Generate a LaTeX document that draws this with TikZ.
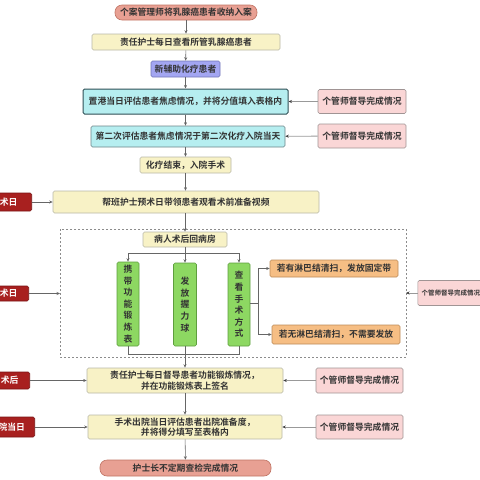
\documentclass[tikz,border=0pt]{standalone}
\usepackage{fontspec}
\setmainfont{Noto Sans CJK SC}[BoldFont={Noto Sans CJK SC Bold}]
\usetikzlibrary{arrows.meta,calc}
\definecolor{pillc}{HTML}{E8A093}
\definecolor{pilld}{HTML}{C07464}
\definecolor{yelc}{HTML}{F8F2C6}
\definecolor{yeld}{HTML}{B8B8A8}
\definecolor{bluc}{HTML}{A3A6F2}
\definecolor{blud}{HTML}{7276B8}
\definecolor{cyac}{HTML}{B6EEF0}
\definecolor{cyad}{HTML}{2F4F55}
\definecolor{pinc}{HTML}{FAD6D6}
\definecolor{pind}{HTML}{A09494}
\definecolor{grnc}{HTML}{8DD862}
\definecolor{grnd}{HTML}{5E9E3E}
\definecolor{orac}{HTML}{F6BE84}
\definecolor{orad}{HTML}{BB8A58}
\definecolor{redc}{HTML}{A8201F}
\definecolor{redd}{HTML}{7A1414}
\definecolor{txt}{HTML}{333333}
\tikzset{
  base/.style={draw, line width=0.6pt, rounded corners=1.5pt, inner sep=0pt, align=center,
    font=\fontsize{8.8}{10.5}\selectfont\bfseries, text=txt},
  pill/.style={base, fill=pillc, draw=pilld, rounded corners=7pt},
  yel/.style={base, fill=yelc, draw=yeld},
  blu/.style={base, fill=bluc, draw=blud},
  cya/.style={base, fill=cyac, draw=cyad},
  pin/.style={base, fill=pinc, draw=pind},
  grn/.style={base, fill=grnc, draw=grnd, font=\fontsize{8.8}{11.6}\selectfont\bfseries},
  ora/.style={base, fill=orac, draw=orad},
  lbl/.style={base, fill=redc, draw=redd, text=white, anchor=east},
  arr/.style={draw=black!60, line width=0.55pt, -{Stealth[length=3.5pt,width=3pt]}},
  ln/.style={draw=black!60, line width=0.55pt},
  parr/.style={draw=black!40, line width=0.8pt, -{Stealth[length=3.5pt,width=3pt,color=black!75]}},
}
\begin{document}
\begin{tikzpicture}[x=1pt,y=-1pt]
\useasboundingbox (0,0) rectangle (480,480);
\clip (0,0) rectangle (480,480);
% main column
\node[pill, minimum width=142pt, minimum height=15pt] (n1) at (186,12.5) {个案管理师将乳腺癌患者收纳入案};
\node[yel, minimum width=188pt, minimum height=16pt] (n2) at (186,42) {责任护士每日查看所管乳腺癌患者};
\node[blu, minimum width=69pt, minimum height=16pt] (n3) at (185.5,69) {新辅助化疗患者};
\node[cya, line width=1pt, minimum width=205pt, minimum height=25pt] (n4) at (185.5,101.5) {置港当日评估患者焦虑情况，并将分值填入表格内};
\node[cya, draw=cyad!70, minimum width=194pt, minimum height=21pt] (n5) at (188,136.5) {第二次评估患者焦虑情况于第二次化疗入院当天};
\node[pin, minimum width=88pt, minimum height=24pt] (r4) at (362,101.5) {个管师督导完成情况};
\node[pin, minimum width=88pt, minimum height=24pt] (r5) at (362,136) {个管师督导完成情况};
\node[yel, minimum width=91pt, minimum height=16pt] (n7) at (185.5,165) {化疗结束，入院手术};
\node[yel, minimum width=266pt, minimum height=22pt] (n8) at (186,202) {帮班护士预术日带领患者观看术前准备视频};
% dashed group
\draw[black!45, line width=0.7pt, dash pattern=on 2pt off 2pt] (60,229) rectangle (406,357);
\coordinate (gw) at (60,293.5);
\coordinate (ge) at (406,293);
\node[yel, minimum width=84pt, minimum height=15pt] (n10) at (185,239.5) {病人术后回病房};
\node[grn, minimum width=22pt, minimum height=84pt] (g1) at (128,304) {携\\带\\功\\能\\锻\\炼\\表};
\node[grn, minimum width=23pt, minimum height=83pt] (g2) at (185,304.5) {发\\放\\握\\力\\球};
\node[grn, minimum width=22pt, minimum height=83pt] (g3) at (239,304.5) {查\\看\\手\\术\\方\\式};
\node[ora, minimum width=128pt, minimum height=17pt] (o1) at (334,268.5) {若有淋巴结清扫，发放固定带};
\node[ora, minimum width=128pt, minimum height=19pt] (o2) at (336,334.5) {若无淋巴结清扫，不需要发放};
\node[pin, anchor=west, minimum width=66pt, minimum height=25pt, align=left, inner xsep=2.5pt,
  font=\fontsize{6.5}{8}\selectfont\bfseries] (r13) at (417.5,293) {个管师督导完成情况};
% lower
\node[yel, minimum width=196pt, minimum height=25pt] (n14) at (185,380.5) {责任护士每日督导患者功能锻炼情况，\\并在功能锻炼表上签名};
\node[yel, minimum width=194pt, minimum height=24pt] (n15) at (185,427) {手术出院当日评估患者出院准备度，\\并将得分填写至表格内};
\node[pin, minimum width=87pt, minimum height=25pt] (r14) at (359.5,380.5) {个管师督导完成情况};
\node[pin, minimum width=87pt, minimum height=24pt] (r15) at (359.5,427) {个管师督导完成情况};
\node[pill, minimum width=171pt, minimum height=16pt] (n16) at (185.5,468) {护士长不定期查检完成情况};
% left labels (cut by the left edge)
\node[lbl, minimum width=46pt, minimum height=18pt] (L1) at (32,202) {术日};
\node[lbl, minimum width=40pt, minimum height=15pt] (L2) at (29,293.5) {术日};
\node[lbl, minimum width=40pt, minimum height=17pt] (L3) at (30,380.5) {术后};
\node[lbl, minimum width=46pt, minimum height=20pt] (L4) at (35,427) {院当日};
% connectors main
\draw[arr] (n1) -- (n2);
\draw[arr] (n2) -- (n3);
\draw[arr] (n3) -- (n4);
\draw[arr] (n4.south -| n5.north) ++(-2.5,0) -- ($(n5.north)+(-2.5,0)$);
\draw[arr] (n5.south -| n7.north) -- (n7.north);
\draw[arr] (n7) -- (n7 |- n8.north);
\draw[arr] (n8.south -| n10.north) -- (n10.north);
\draw[parr] (r4) -- (n4);
\draw[parr] (r5) -- (n5);
\draw[arr] (L1) -- (n8);
\draw[arr] (L2) -- (gw);
\draw[arr] (L3) -- (L3 -| n14.west);
\draw[arr] (L4) -- (L4 -| n15.west);
\draw[parr] (r13) -- (ge);
% branch to green boxes
\coordinate (bt) at (185,253);
\draw[ln] (n10.south) -- (bt);
\draw[ln] (g1 |- bt) -- (g3 |- bt);
\draw[arr] (g1 |- bt) -- (g1.north);
\draw[arr] (bt) -- (g2.north);
\draw[arr] (g3 |- bt) -- (g3.north);
% merge
\coordinate (bm) at (185,354);
\draw[ln] (g1.south) -- (g1 |- bm) -- (g3 |- bm) -- (g3.south);
\draw[ln] (g2.south) -- (bm);
\draw[arr] (bm) -- (n14.north);
% side branch
\coordinate (sb) at (258,303);
\draw[ln] (g3.east |- sb) -- (sb);
\draw[arr] (sb) |- (o1.west);
\draw[arr] (sb) |- (o2.west);
\draw[arr] (n14) -- (n15);
\draw[arr] (n15) -- (n16);
\draw[parr] (r14) -- (n14);
\draw[parr] (r15) -- (n15);
\end{tikzpicture}
\end{document}
